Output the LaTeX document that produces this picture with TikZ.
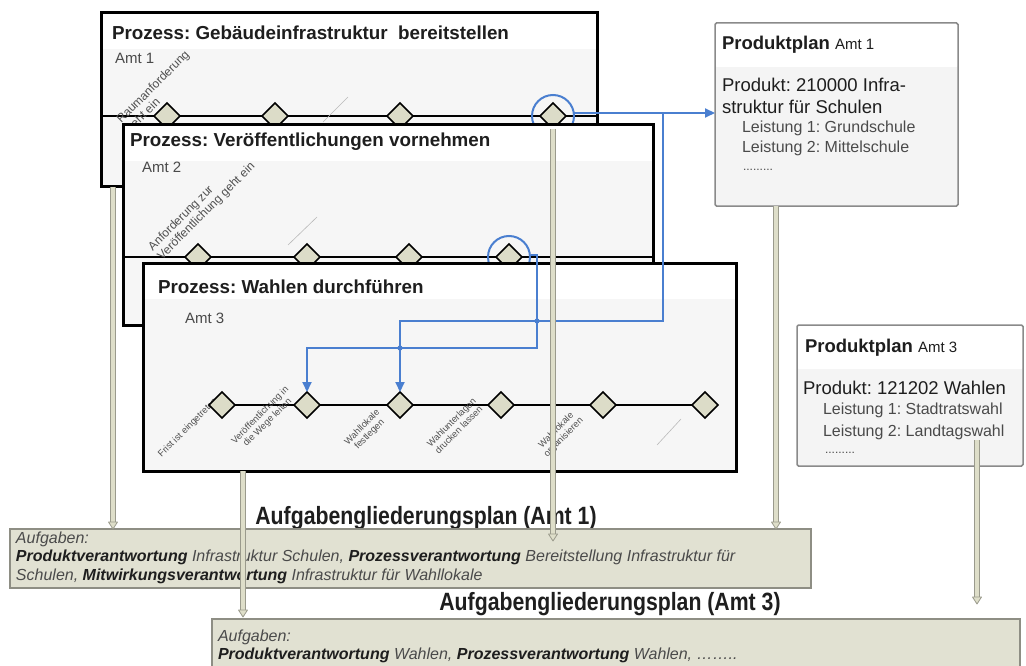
\documentclass[tikz,border=0pt]{standalone}
\usepackage{fontspec}
\setmainfont{Liberation Sans}
\newfontfamily\narrowfont{Liberation Sans}[FakeStretch=0.85]
\usetikzlibrary{shapes.geometric,arrows.meta}
\frenchspacing
\definecolor{boxbody}{HTML}{F6F6F6}
\definecolor{diafill}{HTML}{DCDCC8}
\definecolor{blueline}{HTML}{4A7FD0}
\definecolor{barout}{HTML}{9A9A8C}
\definecolor{barin}{HTML}{DEDEC9}
\definecolor{aufgfill}{HTML}{E1E1D2}
\definecolor{aufgdraw}{HTML}{8E8E84}
\definecolor{labtext}{HTML}{505050}
\definecolor{darktext}{HTML}{1E1E1E}
\definecolor{midtext}{HTML}{4A4A4A}
\definecolor{ppdraw}{HTML}{8A8A8A}
\definecolor{ppbody}{HTML}{F4F4F4}
\newcommand\fs[2]{\fontsize{#1}{#2}\selectfont}
\newcommand\gbar[2]{%
  \draw[barout, line width=6.5pt] (#1) -- ([yshift=5pt]#2);
  \draw[barin, line width=3.5pt] (#1) -- ([yshift=5pt]#2);
  \draw[barout, fill=barin, line width=0.8pt, line join=round]
    ([xshift=-4.5pt,yshift=7pt]#2) -- ([xshift=4.5pt,yshift=7pt]#2) -- (#2) -- cycle;}
\begin{document}
\begin{tikzpicture}[x=1pt,y=-1pt,
  every node/.style={inner sep=0pt,outer sep=0pt},
  pbox/.style={draw=black, line width=3pt, fill=boxbody, anchor=north west,
    path picture={\fill[white] (path picture bounding box.north west) rectangle ([yshift=-36pt]path picture bounding box.north east);}},
  ppbox/.style={draw=ppdraw, line width=1.5pt, fill=ppbody, anchor=north west, rounded corners=1.5pt,
    path picture={\fill[white] (path picture bounding box.north west) rectangle ([yshift=-44pt]path picture bounding box.north east);}},
  aufg/.style={draw=aufgdraw, line width=1.3pt, fill=aufgfill, anchor=north west},
  dia/.style={diamond, draw=black, line width=1.6pt, fill=diafill, minimum width=26pt, minimum height=26pt},
  pline/.style={draw=black, line width=2.2pt},
  ptitle/.style={anchor=west, font=\bfseries\fs{18.8}{22}, text=darktext},
  amt/.style={anchor=west, font=\fs{15}{18}, text=midtext},
  rlab/.style={rotate=45, align=left, font=\fs{12}{13}, text=labtext},
  slab/.style={rotate=45, align=center, font=\fs{9.3}{10.3}, text=labtext},
  faint/.style={draw=gray!55, line width=0.6pt},
  bline/.style={draw=blueline, line width=2pt},
  barrow/.style={-{Triangle[length=10pt,width=9pt]}},
  pptext/.style={anchor=west, font=\fs{18.5}{22}, text=darktext},
  pplei/.style={anchor=west, font=\fs{16}{19}, text=midtext},
  agtitle/.style={font=\narrowfont\bfseries\fs{25}{28}, text=darktext},
  autext/.style={anchor=west, font=\itshape\fs{16}{18}, text=midtext}
]
\useasboundingbox (0,0) rectangle (1026,666);
\clip (0,0) rectangle (1026,666);
\fill[white] (0,0) rectangle (1026,666);

% ---------- Prozess 1 ----------
\node[pbox, minimum width=496pt, minimum height=174pt] (b1) at (101,13) {};
\draw[pline] (101,116) -- (597,116);
\node[rlab] (lb1) at (158,92) {Raumanforderung\\geht ein};
\draw[faint] (323,122) -- (348,97);
\node[dia] (d11) at (167,116) {};
\node[dia] (d12) at (275,116) {};
\node[dia] (d13) at (400,116) {};
\node[dia] (d14) at (553,116) {};
\draw[bline] (d14.center) circle (21pt);
\node[ptitle] (t1) at (112,33) {Prozess: Gebäudeinfrastruktur\ \ bereitstellen};
\node[amt] (a1) at (115,58) {Amt 1};

% ---------- Prozess 2 ----------
\node[pbox, minimum width=530pt, minimum height=200pt] (b2) at (123,125) {};
\draw[pline] (123,257) -- (653,257);
\node[rlab] (lb2) at (202,207) {Anforderung zur\\Veröffentlichung geht ein};
\draw[faint] (288,245) -- (317,217);
\node[dia] (d21) at (198,257) {};
\node[dia] (d22) at (307,257) {};
\node[dia] (d23) at (409,257) {};
\node[dia] (d24) at (509,257) {};
\draw[bline] (d24.center) circle (21pt);
\node[ptitle] (t2) at (130,142) {Prozess: Veröffentlichungen vornehmen};
\node[amt] (a2) at (142,167) {Amt 2};

% ---------- Prozess 3 ----------
\node[pbox, minimum width=593pt, minimum height=208pt] (b3) at (143,263) {};
\draw[pline] (222,405) -- (705,405);
\node[slab] (lb31) at (188,428) {Frist ist eingetreten};
\node[slab] (lb32) at (264,419) {Veröffentlichung in\\die Wege leiten};
\node[slab] (lb33) at (366,431) {Wahllokale\\festlegen};
\node[slab] (lb34) at (455,426) {Wahlunterlagen\\drucken lassen};
\node[slab] (lb35) at (560,434) {Wahllokale\\organisieren};
\draw[faint] (657,445) -- (681,419);
\node[dia] (d31) at (222,405) {};
\node[dia] (d32) at (307,405) {};
\node[dia] (d33) at (400,405) {};
\node[dia] (d34) at (501,405) {};
\node[dia] (d35) at (603,405) {};
\node[dia] (d36) at (705,405) {};
\node[ptitle] (t3) at (158,287) {Prozess: Wahlen durchführen};
\node[amt] (a3) at (185,318) {Amt 3};

% ---------- Produktplaene ----------
\node[ppbox, minimum width=243pt, minimum height=183pt] (pp1) at (715,23) {};
\node[anchor=west, text=darktext] (pp1t) at (722,45) {\fs{18.5}{22}\bfseries Produktplan \fs{15}{18}\mdseries Amt 1};
\node[pptext] (pp1a) at (722,85) {Produkt: 210000 Infra-};
\node[pptext] (pp1b) at (722,107) {struktur für Schulen};
\node[pplei] (pp1c) at (742,128) {Leistung 1: Grundschule};
\node[pplei] (pp1d) at (742,148) {Leistung 2: Mittelschule};
\node[pplei] (pp1e) at (743,170) {\fs{12}{14}.........};

\node[ppbox, minimum width=226pt, minimum height=141pt] (pp3) at (797,325) {};
\node[anchor=west, text=darktext] (pp3t) at (805,348) {\fs{18.5}{22}\bfseries Produktplan \fs{15}{18}\mdseries Amt 3};
\node[pptext] (pp3a) at (803,388) {Produkt: 121202 Wahlen};
\node[pplei] (pp3b) at (823,410) {Leistung 1: Stadtratswahl};
\node[pplei] (pp3c) at (823,432) {Leistung 2: Landtagswahl};
\node[pplei] (pp3d) at (825,453) {\fs{12}{14}.........};

% ---------- Aufgabengliederungsplaene ----------
\node[agtitle] (ag1) at (426,518) {Aufgabengliederungsplan (Amt 1)};
\node[aufg, minimum width=801pt, minimum height=59pt] (au1) at (10,529) {};
\node[autext] (au1a) at (16,539) {Aufgaben:};
\node[autext] (au1b) at (16,557) {{\color{darktext}\bfseries Produktverantwortung} Infrastruktur Schulen, {\color{darktext}\bfseries Prozessverantwortung} Bereitstellung Infrastruktur für};
\node[autext] (au1c) at (16,576) {Schulen, {\color{darktext}\bfseries Mitwirkungsverantwortung} Infrastruktur für Wahllokale};

\node[agtitle] (ag3) at (610,604) {Aufgabengliederungsplan (Amt 3)};
\node[aufg, minimum width=808pt, minimum height=90pt] (au3) at (212,619) {};
\node[autext] (au3a) at (218,637) {Aufgaben:};
\node[autext] (au3b) at (218,655) {{\color{darktext}\bfseries Produktverantwortung} Wahlen, {\color{darktext}\bfseries Prozessverantwortung} Wahlen, ……..};

% ---------- blaue Verbindungen ----------
\coordinate (cr1) at ([xshift=21pt,yshift=3pt]d14.center);
\coordinate (j1) at (663,113);
\coordinate (j2) at (663,321);
\coordinate (j3) at (400,321);
\coordinate (cr2) at (531,255);
\coordinate (k1) at (537,255);
\coordinate (k2) at (537,348);
\coordinate (k3) at (307,348);
\draw[bline, barrow] (cr1) -- (cr1 -| pp1.west);
\draw[bline, barrow] (j1) -- (j2) -- (j3) -- (d33.north);
\draw[bline, barrow] (cr2) -- (k1) -- (k2) -- (k3) -- (d32.north);
\fill[blueline] (537,321) circle (2.6pt);
\fill[blueline] (400,348) circle (2.6pt);

% ---------- graue Verbindungen ----------
\coordinate (g1b) at (113,529);
\coordinate (g2b) at (553,541);
\coordinate (g3b) at (776,529);
\coordinate (g4b) at (243,617);
\coordinate (g5a) at (977,440);
\coordinate (g5b) at (977,604);
\gbar{b1.south -| g1b}{g1b}
\gbar{d14.south}{g2b}
\gbar{pp1.south -| g3b}{g3b}
\gbar{b3.south -| g4b}{g4b}
\gbar{g5a}{g5b}
\end{tikzpicture}
\end{document}
